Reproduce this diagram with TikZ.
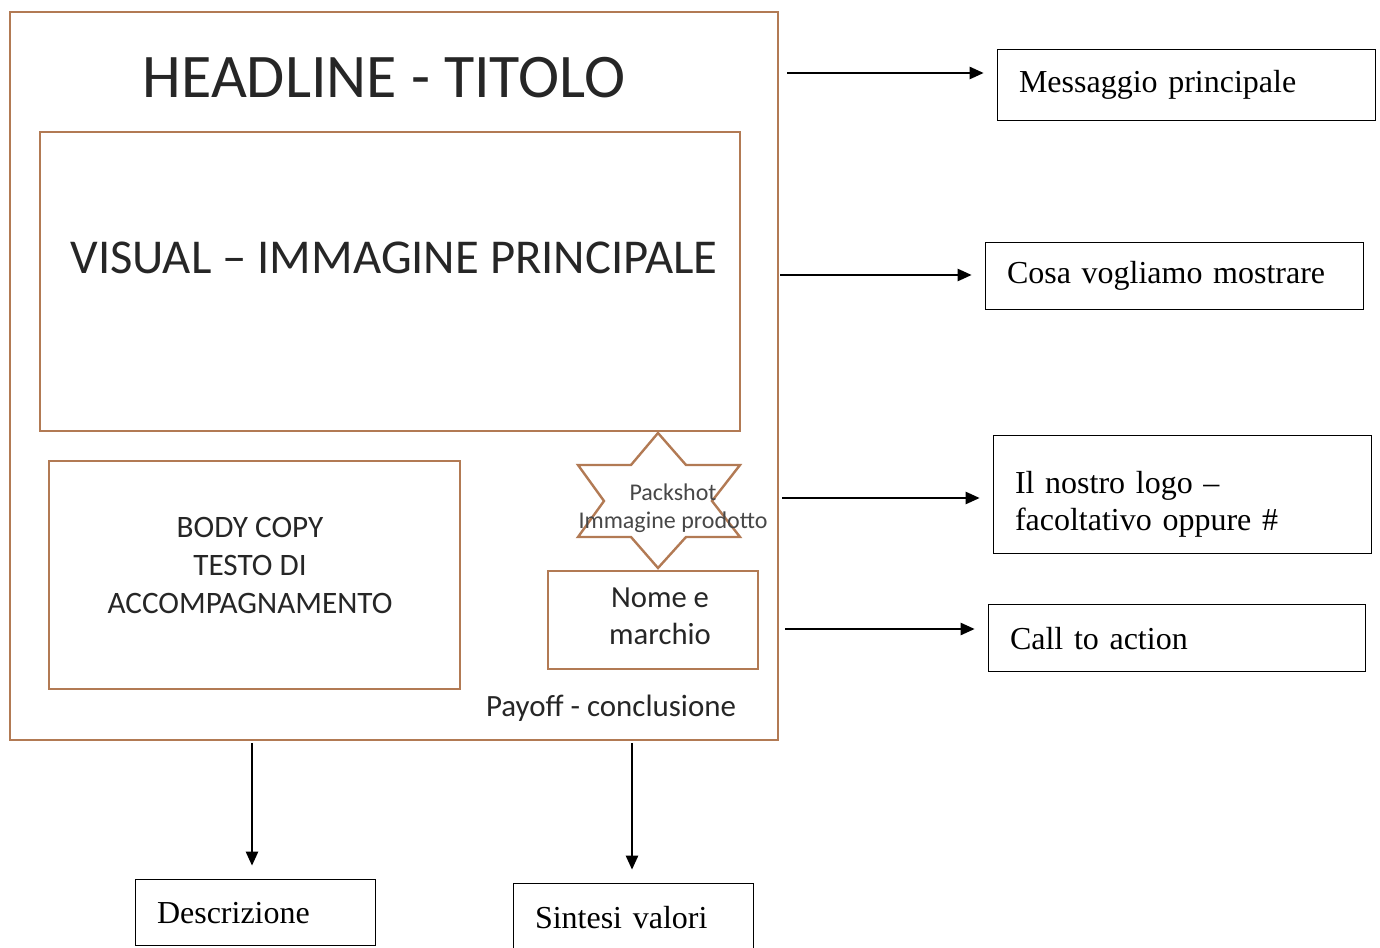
\documentclass[tikz,border=0pt]{standalone}
\usepackage{fontspec}
\usetikzlibrary{arrows.meta}
\newfontfamily\calfont{Carlito}
\newfontfamily\timesfont[WordSpace=0.6]{Liberation Serif}
\definecolor{frameorange}{RGB}{178,122,84}
\definecolor{inktext}{RGB}{38,38,38}

\tikzset{
  frame/.style={draw=frameorange, line width=1.8pt},
  poster text/.style={inner sep=0.75pt, align=center, text=inktext},
  label box/.style={draw, line width=1pt, anchor=north west, align=left, inner xsep=16pt, inner ysep=0pt, font=\timesfont\fontsize{24}{27.75}\selectfont},
  link/.style={-{Triangle[length=10.5pt,width=9pt]}, line width=1.8pt, shorten >=10pt},
}

\begin{document}
\begin{tikzpicture}[x=0.75pt,y=0.75pt,yscale=-1,xscale=1]
\useasboundingbox (0,0) rectangle (1380,948);

%Shape: Rectangle [outer poster]
\draw [frame] (10,12) rectangle (778,740) ;
%Shape: Rectangle [visual]
\draw [frame] (40,132) rectangle (740,431) ;
%Shape: Rectangle [body copy]
\draw [frame] (49,461) rectangle (460,689) ;
%Shape: Rectangle [nome e marchio]
\draw [frame] (548,571) rectangle (758,669) ;
%Shape: Star [packshot]
\draw [frame, line join=miter] (658,433) -- (631,465) -- (578,465) -- (604,501) -- (578,537) -- (631,537) -- (658,568) -- (686,537) -- (740,537) -- (712,501) -- (740,465) -- (686,465) -- cycle ;

% Text Node
\node [poster text, font=\calfont\fontsize{46.5}{50}\selectfont] (title) at (384,78) {HEADLINE - TITOLO};
% Text Node
\node [poster text, font=\calfont\fontsize{36.5}{40}\selectfont] (visual) at (394,258) {VISUAL – IMMAGINE PRINCIPALE};
% Text Node
\node [poster text, font=\calfont\fontsize{23.4}{28.5}\selectfont] (body) at (250,565) {BODY COPY\\TESTO DI\\ACCOMPAGNAMENTO};
% Text Node
\node [poster text, text=black!72, font=\calfont\fontsize{18}{21}\selectfont] (pack) at (673,508) {Packshot\\Immagine prodotto};
% Text Node
\node [poster text, font=\calfont\fontsize{23}{28}\selectfont] (brand) at (660,616) {Nome e\\marchio};
% Text Node
\node [poster text, anchor=base, font=\calfont\fontsize{23.2}{28}\selectfont] (payoff) at (611,716) {Payoff - conclusione};

% Label boxes
\node [label box, text width=251.5pt, minimum height=53.25pt] (msg) at (997,49) {Messaggio principale};
\node [label box, text width=251.5pt, minimum height=50.25pt] (show) at (985,242) {Cosa vogliamo mostrare};
\node [label box, text width=251.5pt, minimum height=88.5pt, text depth=19pt] (logo) at (993,435) {Il nostro logo –\\facoltativo oppure \#};
\node [label box, text width=250.75pt, minimum height=50.25pt] (cta) at (988,604) {Call to action};
\node [label box, text width=148pt, minimum height=49.5pt] (desc) at (135,879) {Descrizione};
\node [label box, text width=148pt, minimum height=50.25pt] (values) at (513,883) {Sintesi valori};

% Arrow starts
\coordinate (s1) at (787,73);
\coordinate (s2) at (780,275);
\coordinate (s3) at (782,498);
\coordinate (s4) at (785,629);
\coordinate (s5) at (252,743);
\coordinate (s6) at (632,743);

%Straight Lines
\draw [link] (s1) -- (s1 -| msg.west) ;
\draw [link] (s2) -- (s2 -| show.west) ;
\draw [link] (s3) -- (s3 -| logo.west) ;
\draw [link] (s4) -- (s4 -| cta.west) ;
\draw [link] (s5) -- (s5 |- desc.north) ;
\draw [link] (s6) -- (s6 |- values.north) ;

\end{tikzpicture}
\end{document}
